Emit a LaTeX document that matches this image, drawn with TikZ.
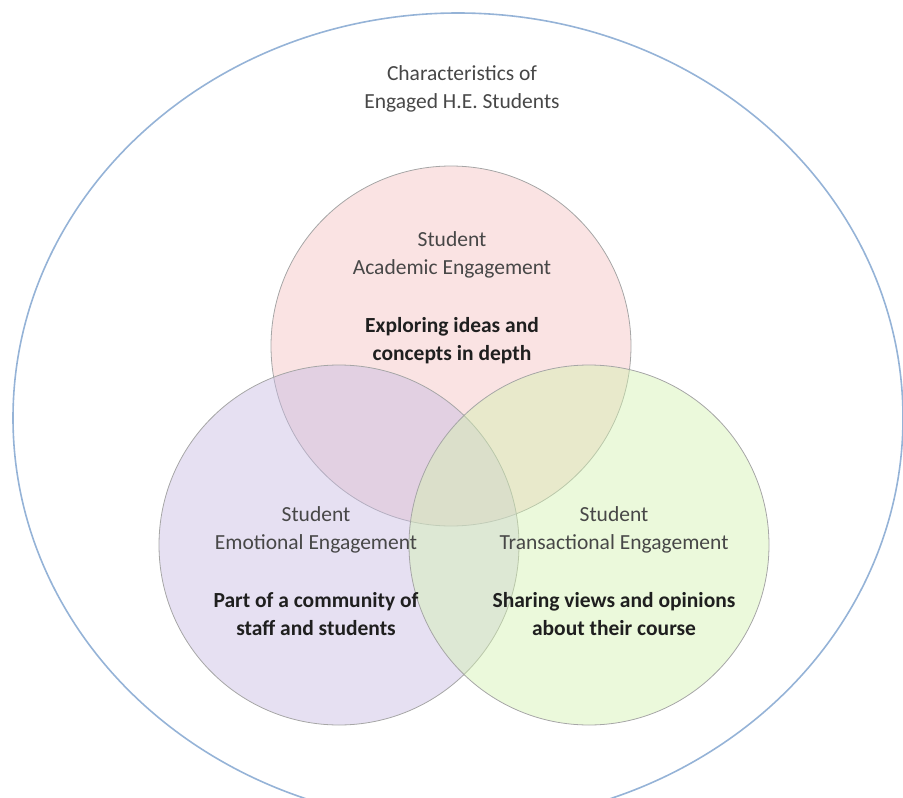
\documentclass[tikz,border=0pt]{standalone}
\usepackage{fontspec}
\setmainfont{Carlito}
\usepackage{tikz}
\usetikzlibrary{shapes.geometric}
\definecolor{framecol}{HTML}{95B3D7}
\definecolor{acadcol}{HTML}{F4C1C1}
\definecolor{emotcol}{HTML}{C7BAE2}
\definecolor{transcol}{HTML}{D3F2AF}

\begin{document}
\begin{tikzpicture}[x=1pt,y=-1pt,
	venn/.style={circle, draw=black!35, line width=0.8pt, minimum size=360pt, inner sep=0pt, fill opacity=0.45},
	lbl/.style={align=center, text=black!72, font=\fontsize{21.5}{28}\selectfont, anchor=base, inner sep=0pt},
	key/.style={lbl, text=black!88, font=\fontsize{21.5}{28}\selectfont\bfseries}]
	%\draw[help lines] (0,0) grid[step=50] (903,798);
	\useasboundingbox (0,0) rectangle (903,798);
	\node[ellipse, draw=framecol, line width=1.6pt, minimum width=890pt, minimum height=810pt, inner sep=0pt] (frame) at (458,418) {};
	\node[lbl] (title) at (462,108) {Characteristics of\\Engaged H.E. Students};
	\node[venn, fill=acadcol] (acad) at (451,346) {};
	\node[venn, fill=emotcol] (emot) at (339,545) {};
	\node[venn, fill=transcol] (trans) at (589,545) {};
	\node[lbl] (acadname) at (452,274) {Student\\Academic Engagement};
	\node[key] (acadkey) at (452,360) {Exploring ideas and\\concepts in depth};
	\node[lbl] (emotname) at (316,549) {Student\\Emotional Engagement};
	\node[key] (emotkey) at (316,635) {Part of a community of\\staff and students};
	\node[lbl] (transname) at (614,549) {Student\\Transactional Engagement};
	\node[key] (transkey) at (614,635) {Sharing views and opinions\\about their course};
\end{tikzpicture}
\end{document}
